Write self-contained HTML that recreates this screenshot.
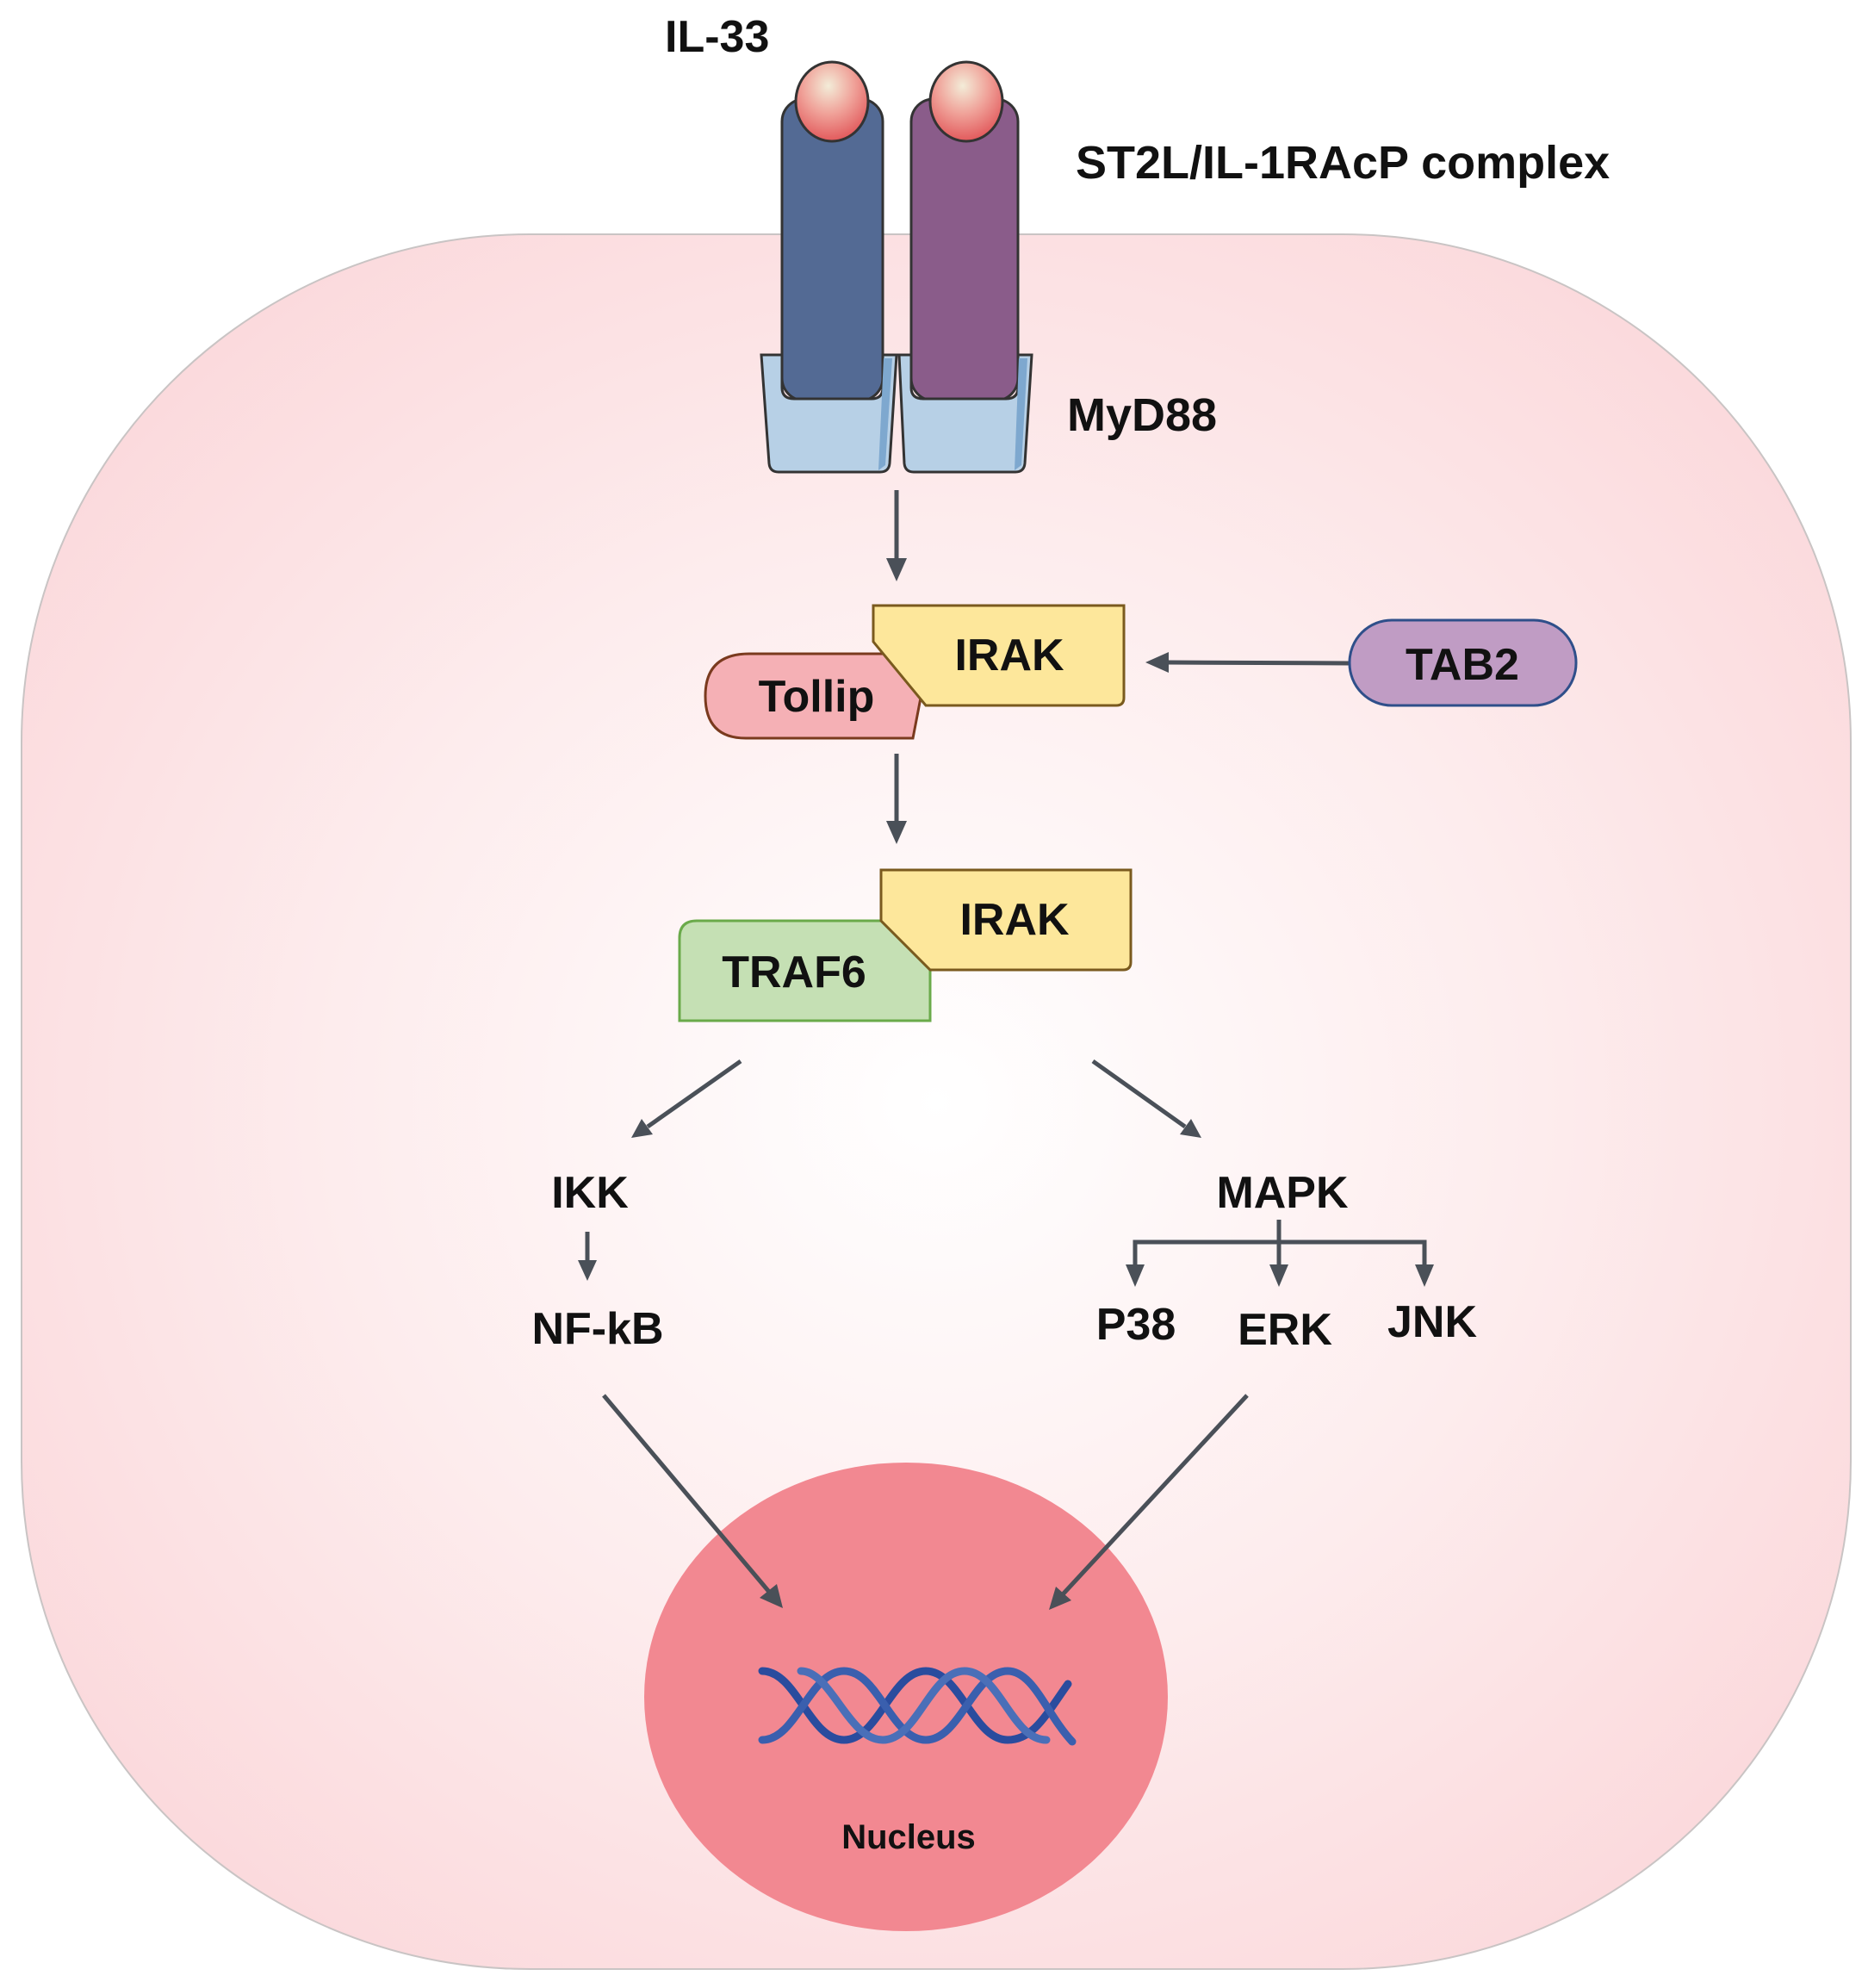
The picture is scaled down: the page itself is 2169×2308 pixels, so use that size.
<!DOCTYPE html>
<html><head><meta charset="utf-8"><style>
html,body{margin:0;padding:0;background:#fff;}
svg text{font-family:"Liberation Sans",sans-serif;font-weight:bold;fill:#111;}
</style></head><body>
<svg width="2169" height="2303" viewBox="0 0 2169 2303" xmlns="http://www.w3.org/2000/svg">
<defs>
<radialGradient id="cell" cx="0.5" cy="0.5" r="0.6">
<stop offset="0" stop-color="#ffffff"/>
<stop offset="0.55" stop-color="#fdeced"/>
<stop offset="1" stop-color="#fbd9dc"/>
</radialGradient>
<radialGradient id="ball" cx="0.45" cy="0.3" r="0.7">
<stop offset="0" stop-color="#f3ecd8"/>
<stop offset="0.5" stop-color="#f0a39a"/>
<stop offset="1" stop-color="#e25a5c"/>
</radialGradient>
</defs>
<rect x="25" y="272" width="2124" height="2014" rx="590" ry="590" fill="url(#cell)" stroke="#c9c4c4" stroke-width="2"/>

<!-- receptors -->
<rect x="908" y="115" width="117" height="350" rx="26" fill="#536a94" stroke="#333" stroke-width="3"/>
<rect x="1058" y="115" width="124" height="350" rx="26" fill="#8a5c8a" stroke="#333" stroke-width="3"/>
<ellipse cx="966" cy="118" rx="42" ry="46" fill="url(#ball)" stroke="#333" stroke-width="3"/>
<ellipse cx="1122" cy="118" rx="42" ry="46" fill="url(#ball)" stroke="#333" stroke-width="3"/>
<path d="M884 412 L908 412 L908 450 Q908 463 922 463 L1012 463 Q1025 463 1025 450 L1025 412 L1041 412 L1033 538 Q1032 548 1022 548 L904 548 Q894 548 893 538 Z" fill="#b7d0e6" stroke="#333" stroke-width="3"/>
<path d="M1044 412 L1058 412 L1058 450 Q1058 463 1072 463 L1168 463 Q1182 463 1182 450 L1182 412 L1198 412 L1190 538 Q1189 548 1179 548 L1061 548 Q1051 548 1050 538 Z" fill="#b7d0e6" stroke="#333" stroke-width="3"/>
<path d="M1026 416 L1036 416 L1028 540 L1020 546" fill="#7ea8cf" stroke="none"/>
<path d="M1183 416 L1193 416 L1186 540 L1178 546" fill="#7ea8cf" stroke="none"/>

<text x="772" y="60" font-size="52">IL-33</text>
<text x="1249" y="207" font-size="54">ST2L/IL-1RAcP complex</text>
<text x="1239" y="500" font-size="54">MyD88</text>

<!-- nucleus -->
<ellipse cx="1052" cy="1970" rx="304" ry="272" fill="#f28891"/>
<g fill="none" stroke-width="9" stroke-linecap="round">
<path d="M885 1940 C925 1940 940 2020 980 2020 C1020 2020 1035 1940 1075 1940 C1115 1940 1130 2020 1170 2020 C1200 2020 1215 1990 1240 1955" stroke="#2a4c9e"/>
<path d="M885 2020 C925 2020 940 1940 980 1940 C1020 1940 1035 2020 1075 2020 C1115 2020 1130 1940 1170 1940 C1200 1940 1215 1990 1245 2022" stroke="#3a5fae"/>
<path d="M930 1940 C965 1940 985 2020 1025 2020 C1065 2020 1080 1940 1120 1940 C1160 1940 1175 2020 1215 2020" stroke="#4a6fb8"/>
</g>
<text x="1055" y="2146" font-size="40" text-anchor="middle">Nucleus</text>

<g stroke="#4a5058" stroke-width="5" fill="#4a5058">
<line x1="1041" y1="569" x2="1041" y2="650"/>
<path d="M1029 648 L1053 648 L1041 675 Z" stroke="none"/>
<line x1="1041" y1="875" x2="1041" y2="955"/>
<path d="M1029 953 L1053 953 L1041 980 Z" stroke="none"/>
<line x1="1567" y1="770" x2="1355" y2="769"/>
<path d="M1357 757 L1357 781 L1330 769 Z" stroke="none"/>
<line x1="860" y1="1232" x2="752" y2="1308"/>
<path d="M745 1299 L758 1317 L733 1321 Z" stroke="none"/>
<line x1="1269" y1="1232" x2="1376" y2="1308"/>
<path d="M1370 1317 L1383 1299 L1395 1321 Z" stroke="none"/>
<line x1="682" y1="1430" x2="682" y2="1465"/>
<path d="M671 1463 L693 1463 L682 1487 Z" stroke="none"/>
<line x1="1485" y1="1416" x2="1485" y2="1470"/>
<polyline points="1318,1470 1318,1442 1654,1442 1654,1470" fill="none"/>
<path d="M1307 1468 L1329 1468 L1318 1494 Z" stroke="none"/>
<path d="M1474 1468 L1496 1468 L1485 1494 Z" stroke="none"/>
<path d="M1643 1468 L1665 1468 L1654 1494 Z" stroke="none"/>
<line x1="701" y1="1620" x2="893" y2="1848"/>
<path d="M882 1855 L902 1839 L909 1867 Z" stroke="none"/>
<line x1="1448" y1="1620" x2="1234" y2="1851"/>
<path d="M1226 1842 L1244 1858 L1218 1869 Z" stroke="none"/>
</g>

<!-- IRAK / Tollip -->
<path d="M819 808 Q819 759 870 759 L1060 759 L1075 779 L1060 857 L866 857 Q819 857 819 808 Z" fill="#f5b0b5" stroke="#7a3a1e" stroke-width="3"/>
<path d="M1014 703 L1305 703 L1305 810 Q1305 819 1296 819 L1075 819 L1014 745 Z" fill="#fde79b" stroke="#7a5a1e" stroke-width="3"/>
<text x="1172" y="778" font-size="52" text-anchor="middle">IRAK</text>
<text x="948" y="826" font-size="52" text-anchor="middle">Tollip</text>
<rect x="1567" y="720" width="263" height="99" rx="49" fill="#c09cc4" stroke="#2f4f8a" stroke-width="3"/>
<text x="1698" y="789" font-size="52" text-anchor="middle">TAB2</text>

<!-- TRAF6 / IRAK -->
<path d="M789 1185 L789 1089 Q789 1069 809 1069 L1023 1069 L1080 1126 L1080 1185 Z" fill="#c5e0b4" stroke="#6aaa4a" stroke-width="3"/>
<path d="M1023 1010 L1313 1010 L1313 1117 Q1313 1126 1304 1126 L1080 1126 L1023 1069 Z" fill="#fde79b" stroke="#7a5a1e" stroke-width="3"/>
<text x="1178" y="1085" font-size="52" text-anchor="middle">IRAK</text>
<text x="922" y="1146" font-size="52" text-anchor="middle">TRAF6</text>

<text x="685" y="1402" font-size="52" text-anchor="middle">IKK</text>
<text x="1489" y="1402" font-size="52" text-anchor="middle">MAPK</text>
<text x="694" y="1560" font-size="52" text-anchor="middle">NF-kB</text>
<text x="1319" y="1555" font-size="52" text-anchor="middle">P38</text>
<text x="1492" y="1561" font-size="52" text-anchor="middle">ERK</text>
<text x="1663" y="1552" font-size="52" text-anchor="middle">JNK</text>
</svg>
</body></html>
